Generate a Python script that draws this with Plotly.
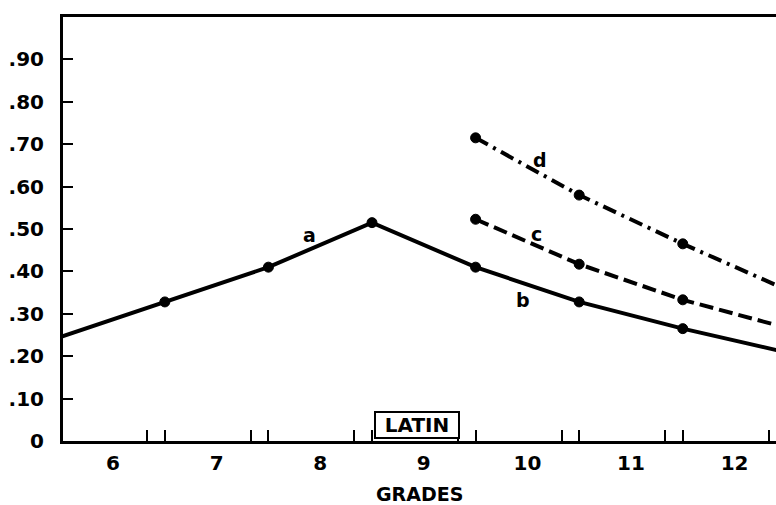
import plotly.graph_objects as go

# ---- data ----
grades = [6, 7, 8, 9, 10, 11, 12]
grade_labels = ["6", "7", "8", "9", "10", "11", "12"]
minor_ticks = [6.33, 6.5, 7.33, 7.5, 8.33, 8.5, 9.33, 9.5, 10.33, 10.5, 11.33, 11.5, 12.33, 12.5]

y_ticks = [0, 0.1, 0.2, 0.3, 0.4, 0.5, 0.6, 0.7, 0.8, 0.9]
y_tick_labels = ["0", ".10", ".20", ".30", ".40", ".50", ".60", ".70", ".80", ".90"]

ab_x = [5.5, 6.5, 7.5, 8.5, 9.5, 10.5, 11.5, 12.5]
ab_y = [0.246, 0.328, 0.41, 0.515, 0.41, 0.328, 0.265, 0.209]
ab_marked = [False, True, True, True, True, True, True, False]

c_x = [9.5, 10.5, 11.5, 12.5]
c_y = [0.523, 0.417, 0.333, 0.267]
c_marked = [True, True, True, False]

d_x = [9.5, 10.5, 11.5, 12.5]
d_y = [0.715, 0.58, 0.465, 0.357]
d_marked = [True, True, True, False]

curve_labels = ["a", "b", "c", "d"]
curve_label_x = [7.90, 9.96, 10.09, 10.12]
curve_label_y = [0.486, 0.333, 0.488, 0.663]

FONT = "DejaVu Sans"

fig = go.Figure()

def add_curve(xs, ys, marked, dash):
    fig.add_trace(go.Scatter(
        x=xs, y=ys, mode="lines",
        line=dict(color="#000000", width=4, dash=dash),
        showlegend=False, cliponaxis=True,
    ))
    fig.add_trace(go.Scatter(
        x=[x for x, m in zip(xs, marked) if m],
        y=[y for y, m in zip(ys, marked) if m],
        mode="markers", opacity=1,
        marker=dict(color="#000000", size=10, symbol="circle", opacity=1,
                    line=dict(width=1, color="#000000")),
        showlegend=False, cliponaxis=True,
    ))

add_curve(ab_x, ab_y, ab_marked, "solid")
add_curve(c_x, c_y, c_marked, "14px,6px")
add_curve(d_x, d_y, d_marked, "14px,6px,3px,6px")

# invisible trace on xaxis2 for minor ticks
fig.add_trace(go.Scatter(x=[minor_ticks[0]], y=[0], xaxis="x2", mode="markers",
                         marker=dict(size=0, opacity=0), showlegend=False, hoverinfo="skip"))

for t, lx, ly in zip(curve_labels, curve_label_x, curve_label_y):
    fig.add_annotation(x=lx, y=ly, text=t, showarrow=False,
                       font=dict(family=FONT, size=19, color="black", weight="bold"))

fig.add_annotation(x=8.93, y=0, xref="x", yref="y", yanchor="bottom", text="LATIN",
                   showarrow=False, bgcolor="white", bordercolor="black", borderwidth=2,
                   width=80, height=22, borderpad=1, yshift=2,
                   font=dict(family=FONT, size=20, color="black", weight="bold"))

fig.add_annotation(x=0.5, y=-53 / 424, xref="paper", yref="paper", yanchor="middle",
                   text="GRADES", showarrow=False,
                   font=dict(family=FONT, size=19, color="black", weight="bold"))

fig.update_layout(
    width=776, height=505,
    margin=dict(l=63, r=0, t=17, b=64),
    paper_bgcolor="white", plot_bgcolor="white",
    font=dict(family=FONT, color="black"),
    hovermode=False,
    xaxis=dict(
        range=[5.517, 12.4], tickvals=grades, ticktext=grade_labels,
        ticks="", showgrid=False, zeroline=False, automargin=False,
        showline=True, linecolor="black", linewidth=3, mirror=True,
        tickfont=dict(family=FONT, size=20, color="black", weight="bold"),
        ticklabelstandoff=2,
    ),
    xaxis2=dict(
        overlaying="x", matches="x", anchor="y", side="bottom", automargin=False,
        tickvals=minor_ticks, ticks="inside", ticklen=11, tickwidth=2, tickcolor="black",
        showticklabels=False, showgrid=False, zeroline=False, showline=False,
    ),
    yaxis=dict(
        range=[0, 1.0], tickvals=y_ticks, ticktext=y_tick_labels,
        ticks="inside", ticklen=10, tickwidth=2, tickcolor="black",
        showgrid=False, zeroline=False, automargin=False,
        showline=True, linecolor="black", linewidth=3,
        tickfont=dict(family=FONT, size=20, color="black", weight="bold"),
        ticklabelstandoff=12,
    ),
)

fig.write_html("out.html",
               config={"displayModeBar": False, "staticPlot": True},
               post_script="document.body.style.margin='0';document.body.style.overflow='hidden';")
